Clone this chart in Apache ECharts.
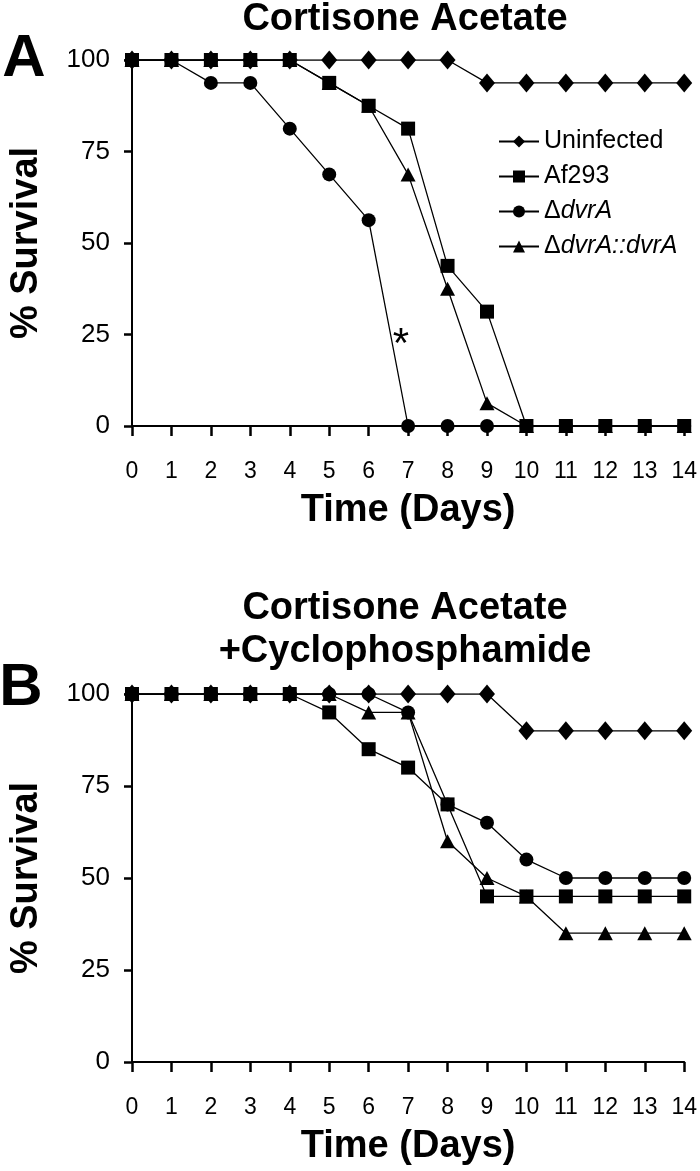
<!DOCTYPE html>
<html>
<head>
<meta charset="utf-8">
<script src="https://cdn.jsdelivr.net/npm/echarts@6/dist/echarts.min.js"></script>
<style>
html,body{margin:0;padding:0;background:#fff;}
#chart{width:700px;height:1171px;}
</style>
</head>
<body>
<div id="chart"></div>
<script>
// ---- data ----
const days = [0,1,2,3,4,5,6,7,8,9,10,11,12,13,14];
const xTickLabels = ['0','1','2','3','4','5','6','7','8','9','10','11','12','13','14'];
const yTicks = [0,25,50,75,100];
const seriesNames = ['Uninfected','Af293','ΔdvrA','ΔdvrA::dvrA'];

// Panel A: Cortisone Acetate
const aUninfected = [100,100,100,100,100,100,100,100,100,93.75,93.75,93.75,93.75,93.75,93.75];
const aAf293      = [100,100,100,100,100,93.75,87.5,81.25,43.75,31.25,0,0,0,0,0];
const aDvrA       = [100,100,93.75,93.75,81.25,68.75,56.25,0,0,0,0,0,0,0,0];
const aDvrAComp   = [100,100,100,100,100,93.75,87.5,68.75,37.5,6.25,0,0,0,0,0];

// Panel B: Cortisone Acetate + Cyclophosphamide
const bUninfected = [100,100,100,100,100,100,100,100,100,100,90,90,90,90,90];
const bAf293      = [100,100,100,100,100,95,85,80,70,45,45,45,45,45,45];
const bDvrA       = [100,100,100,100,100,100,100,95,70,65,55,50,50,50,50];
const bDvrAComp   = [100,100,100,100,100,100,95,95,60,50,45,35,35,35,35];

const asterisk = {day: 6.82, value: 22, text: '*'};

// ---- chart ----
const FONT = '"Liberation Sans", Arial, Helvetica, sans-serif';
const chart = echarts.init(document.getElementById('chart'), null, {renderer:'canvas'});

function pairs(vals){ return days.map((d,i)=>[d, vals[i]]); }

const symbols = {
  'Uninfected': {symbol:'diamond', size:[16,19]},
  'Af293': {symbol:'rect', size:14},
  'ΔdvrA': {symbol:'circle', size:14},
  'ΔdvrA::dvrA': {symbol:'triangle', size:[15,14]}
};

function mkSeries(name, vals, idx, z, extra){
  const s = {
    name: name, type:'line', xAxisIndex: idx, yAxisIndex: idx,
    data: pairs(vals), symbol: symbols[name].symbol, symbolSize: symbols[name].size,
    showAllSymbol: true, z: z, animation:false,
    lineStyle:{color:'#000', width:1.3},
    itemStyle:{color:'#000', borderWidth:0},
    emphasis:{disabled:true}
  };
  return Object.assign(s, extra||{});
}

function axesFor(idx){
  return {
    x: {
      type:'value', gridIndex: idx, min:0, max:14, interval:1,
      name:'Time (Days)', nameLocation:'middle', nameGap:66,
      nameTextStyle:{fontFamily:FONT, fontWeight:'bold', fontSize:38, color:'#000'},
      axisLine:{show:true, onZero:false, lineStyle:{color:'#000', width:2}},
      axisTick:{show:true, inside:false, length:10, lineStyle:{color:'#000', width:2.5}},
      axisLabel:{fontFamily:FONT, fontSize:23, color:'#000', margin:34,
                 formatter:(v)=>xTickLabels[days.indexOf(v)]},
      splitLine:{show:false}
    },
    y: {
      type:'value', gridIndex: idx, min:0, max:100, interval:25,
      name:'% Survival', nameLocation:'middle', nameGap:86, nameRotate:90,
      nameTextStyle:{fontFamily:FONT, fontWeight:'bold', fontSize:38, color:'#000'},
      axisLine:{show:true, lineStyle:{color:'#000', width:2}},
      axisTick:{show:true, inside:false, length:8, lineStyle:{color:'#000', width:2.5}},
      axisLabel:{fontFamily:FONT, fontSize:26, color:'#000', margin:22,
                 formatter:(v)=> yTicks.indexOf(v)>=0 ? String(v) : ''},
      splitLine:{show:false}
    }
  };
}
const axA = axesFor(0), axB = axesFor(1);

const option = {
  backgroundColor:'#fff',
  animation:false,
  grid:[
    {left:129, width:560, top:60, height:366},
    {left:129, width:560, top:694, height:368}
  ],
  xAxis:[axA.x, axB.x],
  yAxis:[axA.y, axB.y],
  legend:{
    show:true, orient:'vertical', left:493, top:124,
    data: seriesNames,
    itemWidth:40, itemHeight:15, itemGap:10,
    selectedMode:false,
    textStyle:{fontFamily:FONT, fontSize:25, color:'#000', lineHeight:25, padding:[0,0,0,0],
      rich:{
        n:{fontFamily:FONT, fontSize:25, color:'#000'},
        i:{fontFamily:FONT, fontSize:25, color:'#000', fontStyle:'italic'}
      }
    },
    formatter:function(name){
      if(name.indexOf('Δ')===0){
        return name.replace(/^Δ(dvrA)(::)?(dvrA)?$/, function(m,a,b,c){
          return '{n|Δ}{i|' + a + (b||'') + (c||'') + '}';
        });
      }
      return name;
    }
  },
  series:[
    mkSeries('Uninfected', aUninfected, 0, 2),
    mkSeries('ΔdvrA::dvrA', aDvrAComp, 0, 3),
    mkSeries('ΔdvrA', aDvrA, 0, 4, {
      markPoint:{
        symbol:'circle', symbolSize:1, itemStyle:{color:'rgba(0,0,0,0)'},
        silent:true,
        label:{show:true, position:'inside', formatter:asterisk.text, fontFamily:FONT, fontSize:42, color:'#000'},
        data:[{coord:[asterisk.day, asterisk.value]}]
      }
    }),
    mkSeries('Af293', aAf293, 0, 5),
    mkSeries('Uninfected', bUninfected, 1, 2),
    mkSeries('ΔdvrA::dvrA', bDvrAComp, 1, 3),
    mkSeries('ΔdvrA', bDvrA, 1, 4),
    mkSeries('Af293', bAf293, 1, 5)
  ],
  graphic:[
    {type:'text', x:405, y:20, style:{text:'Cortisone Acetate', font:'bold 38px '+FONT, fill:'#000', align:'center', verticalAlign:'middle'}},
    {type:'text', x:24, y:59, style:{text:'A', font:'bold 60px '+FONT, fill:'#000', align:'center', verticalAlign:'middle'}},
    {type:'text', x:405, y:609, style:{text:'Cortisone Acetate', font:'bold 38px '+FONT, fill:'#000', align:'center', verticalAlign:'middle'}},
    {type:'text', x:405, y:652, style:{text:'+Cyclophosphamide', font:'bold 38px '+FONT, fill:'#000', align:'center', verticalAlign:'middle'}},
    {type:'text', x:21, y:688, style:{text:'B', font:'bold 60px '+FONT, fill:'#000', align:'center', verticalAlign:'middle'}}
  ]
};
chart.setOption(option);
</script>
</body>
</html>
